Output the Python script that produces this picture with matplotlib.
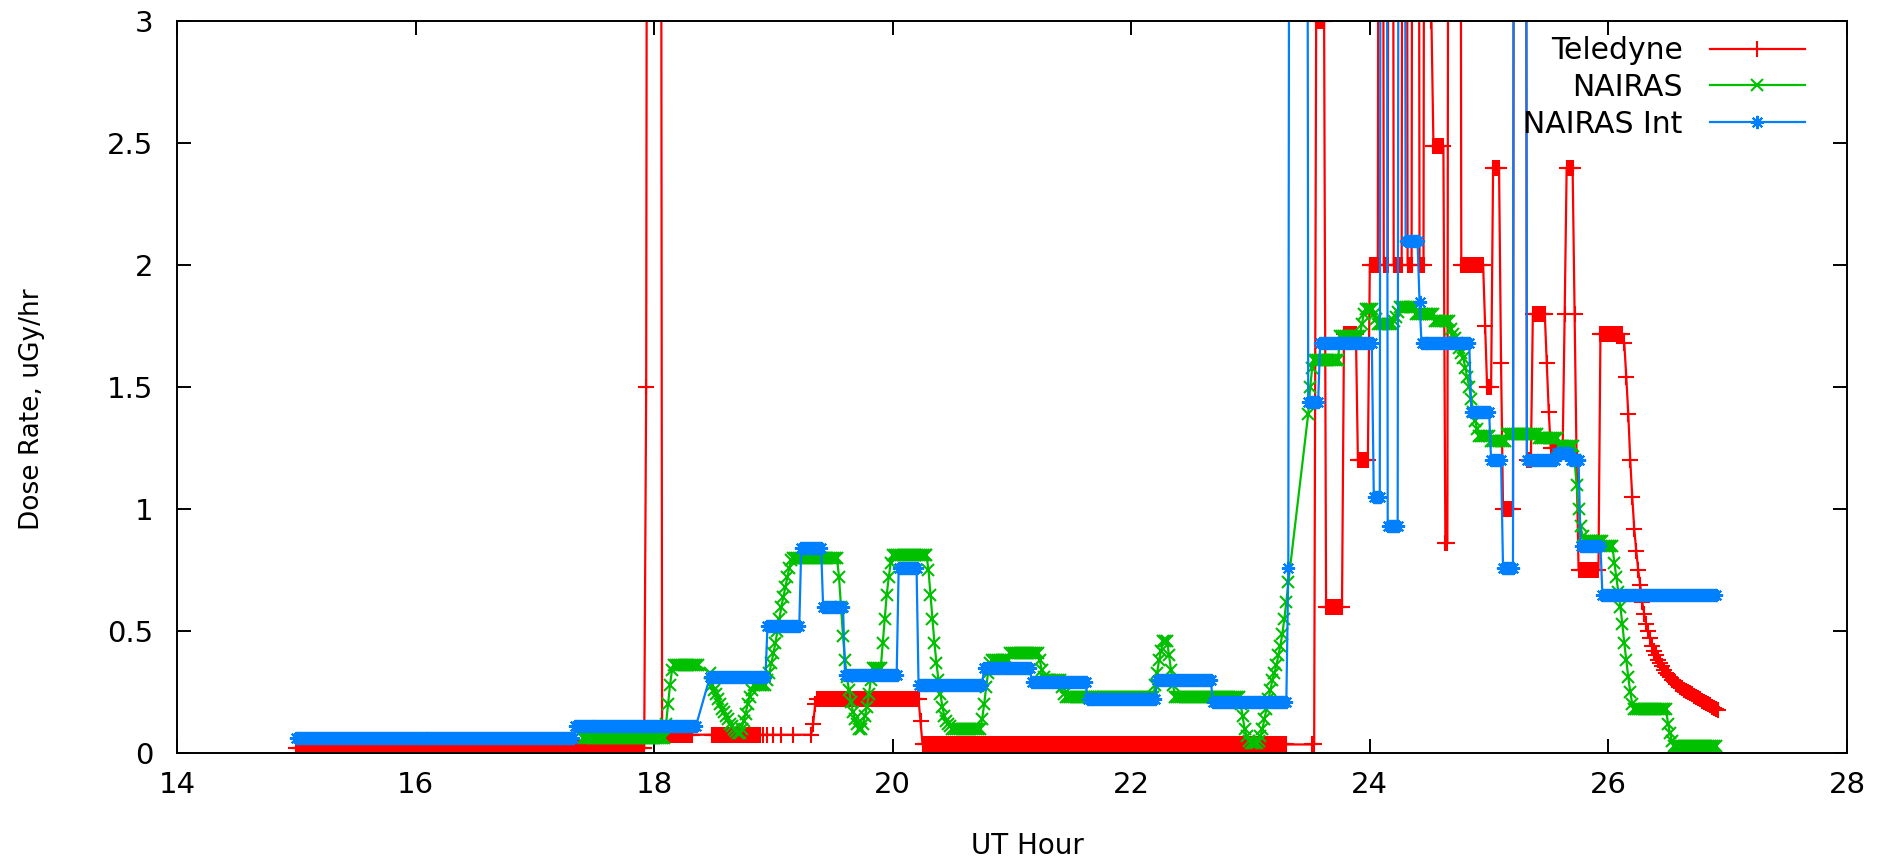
import numpy as np
import matplotlib
matplotlib.use("Agg")
import matplotlib.pyplot as plt
from matplotlib.ticker import FormatStrFormatter, MultipleLocator

# Readings are one per minute, stored as (value, number of minutes) runs.
# None = no reading for that minute (the line just joins across the gap).
# Values > 3 are off the top of the chart.

tel_start = 15.0
teledyne = [
    (0.02, 176), (1.5, 1), (8.0, 7), (0.075, 16), (None, 9), (0.075, 25),
    (None, 1), (0.075, 1), (None, 1), (0.075, 1), (None, 2), (0.075, 1),
    (None, 3), (0.075, 1), (None, 5), (0.075, 1), (None, 8), (0.075, 1),
    (0.12, 1), (0.2, 1), (0.22, 52), (0.13, 1), (0.035, 184), (None, 12),
    (0.035, 2), (3.0, 5), (0.6, 9), (1.72, 7), (1.2, 6),
    (2.0, 5), (8.0, 2), (2.0, 3), (8.0, 2), (2.0, 5), (8.0, 2), (2.0, 3),
    (8.0, 3), (2.0, 3), (8.0, 3), (3.0, 1), (2.49, 6), (0.86, 2), (8.0, 6),
    (2.0, 12), (1.75, 1), (1.5, 3), (2.4, 4), (1.6, 1), (1.0, 6), (8.0, 6),
    (1.2, 3), (1.8, 7), (1.6, 1), (1.4, 1), (1.25, 7), (1.8, 1), (2.4, 4),
    (1.8, 1), (1.2, 1), (0.75, 11), (1.72, 12),
    (1.68, 1), (1.54, 1), (1.39, 1), (1.2, 1), (1.05, 1), (0.92, 1),
    (0.83, 1), (0.75, 1), (0.69, 1), (0.62, 1), (0.57, 1), (0.53, 1),
    (0.50, 1), (0.47, 1), (0.44, 1), (0.42, 1), (0.40, 1), (0.38, 1),
    (0.37, 1), (0.355, 1), (0.34, 1), (0.33, 1), (0.32, 1), (0.31, 1),
    (0.30, 1), (0.295, 1), (0.285, 1), (0.28, 1), (0.27, 1), (0.265, 1),
    (0.26, 1), (0.255, 1), (0.25, 1), (0.245, 1), (0.24, 1), (0.235, 1),
    (0.23, 1), (0.225, 1), (0.22, 1), (0.215, 1), (0.21, 1), (0.205, 1),
    (0.2, 1), (0.195, 1), (0.19, 1), (0.185, 1), (0.18, 1), (0.175, 1),
]

nairas_start = 17.4
nairas = [
    (0.06, 42), (0.12, 1), (0.2, 1), (0.28, 1), (0.34, 1), (0.36, 13),
    (None, 5),
    (0.33, 1), (0.28, 1), (0.26, 1), (0.24, 1), (0.22, 1), (0.2, 1),
    (0.18, 1), (0.17, 1), (0.15, 1), (0.14, 1), (0.12, 1), (0.11, 1),
    (0.1, 1), (0.09, 1), (0.08, 2), (0.1, 1), (0.13, 1), (0.16, 1),
    (0.2, 1), (0.23, 1), (0.26, 1), (0.28, 7),
    (0.3, 1), (0.33, 1), (0.37, 1), (0.41, 1), (0.45, 1), (0.5, 1),
    (0.55, 1), (0.6, 1), (0.64, 1), (0.68, 1), (0.72, 1), (0.76, 1),
    (0.79, 1), (0.8, 23),
    (0.72, 1), (0.6, 1), (0.48, 1), (0.38, 1), (0.31, 1), (0.26, 1),
    (0.21, 1), (0.17, 1), (0.14, 1), (0.12, 1), (0.1, 2), (0.12, 1),
    (0.15, 1), (0.19, 1), (0.24, 1), (0.3, 1), (0.35, 5),
    (0.45, 1), (0.55, 1), (0.65, 1), (0.72, 1), (0.78, 1), (0.81, 18),
    (0.75, 1), (0.65, 1), (0.55, 1), (0.45, 1), (0.37, 1), (0.3, 1),
    (0.24, 1), (0.19, 1), (0.15, 1), (0.13, 1), (0.12, 1), (0.11, 1),
    (0.1, 15), (0.14, 1), (0.2, 1), (0.27, 1), (0.33, 1), (0.37, 1),
    (0.38, 9), (0.41, 15), (0.38, 1), (0.34, 1), (0.31, 1), (0.3, 8),
    (0.27, 1), (0.24, 1), (0.23, 45),
    (0.28, 1), (0.33, 1), (0.38, 1), (0.42, 1), (0.46, 3), (0.4, 1),
    (0.34, 1), (0.28, 1), (0.23, 33),
    (0.2, 1), (0.15, 1), (0.1, 1), (0.07, 1), (0.05, 1), (0.04, 4),
    (0.05, 1), (0.07, 1), (0.1, 1), (0.14, 1), (0.18, 1), (0.22, 1),
    (0.26, 1), (0.3, 1), (0.33, 1), (0.36, 1), (0.4, 1), (0.44, 1),
    (0.49, 1), (0.55, 1), (0.62, 1), (0.7, 1),
    (None, 9),
    (1.39, 1), (1.5, 1), (1.58, 1), (1.61, 13), (1.71, 11), (1.76, 1),
    (1.8, 1), (1.82, 4), (1.8, 1), (1.78, 1), (1.76, 8), (1.77, 1),
    (1.79, 1), (1.81, 1), (1.83, 8), (1.8, 10), (1.77, 8),
    (1.74, 1), (1.72, 1), (1.7, 1), (1.68, 1), (1.66, 1), (1.64, 1),
    (1.62, 1), (1.58, 1), (1.54, 1), (1.5, 1), (1.45, 1), (1.4, 1),
    (1.36, 1), (1.33, 1), (1.3, 6), (1.28, 8), (1.31, 16), (1.29, 10),
    (1.26, 8), (1.2, 1), (1.1, 1), (1.0, 1), (0.93, 1), (0.89, 1),
    (0.87, 10), (0.85, 5),
    (0.78, 1), (0.72, 1), (0.66, 1), (0.6, 1), (0.53, 1), (0.45, 1),
    (0.38, 1), (0.31, 1), (0.25, 1), (0.2, 1), (0.18, 17),
    (0.12, 1), (0.08, 1), (0.05, 1), (0.03, 22),
]

nairas_int_start = 15.0
nairas_int = [
    (0.06, 140), (0.11, 62), (None, 6), (0.31, 29), (0.52, 17), (0.84, 11),
    (0.6, 11), (0.32, 27), (0.76, 10), (0.28, 33), (0.35, 24), (0.29, 28),
    (0.22, 35), (0.30, 28), (0.21, 38), (0.76, 1), (8.0, 9), (1.44, 6),
    (1.68, 27), (1.05, 4), (8.0, 3), (0.93, 6), (8.0, 3), (2.1, 7),
    (1.85, 1), (1.68, 25), (1.4, 10), (1.2, 6), (0.76, 6), (8.0, 6),
    (1.2, 15), (1.23, 7), (1.2, 5), (0.85, 11), (0.65, 58),
]

labels = ["Teledyne", "NAIRAS", "NAIRAS Int"]
colors = ["#ff0000", "#00c000", "#0080ff"]
markers = ["+", "x", (8, 2, 0)]
msizes = [12, 8.5, 9.5]


def expand(start, runs):
    """Turn (value, minutes) runs into time/value arrays, dropping missing minutes."""
    vals = np.concatenate([np.full(n, np.nan if v is None else v) for v, n in runs])
    hours = start + np.arange(len(vals)) / 60.0
    keep = ~np.isnan(vals)
    return hours[keep], vals[keep]


series = [expand(tel_start, teledyne),
          expand(nairas_start, nairas),
          expand(nairas_int_start, nairas_int)]

fig = plt.figure(figsize=(18.77, 8.59), dpi=100)
ax = fig.add_axes([0.0943, 0.1234, 0.8897, 0.8516])

for (t, v), lab, col, mk, ms in zip(series, labels, colors, markers, msizes):
    ax.plot(t, v, color=col, lw=1.6, marker=mk, ms=ms, mew=1.5, label=lab)

ax.set_xlim(14, 28)
ax.set_ylim(0, 3)
ax.xaxis.set_major_locator(MultipleLocator(2))
ax.yaxis.set_major_locator(MultipleLocator(0.5))
ax.yaxis.set_major_formatter(FormatStrFormatter('%g'))

for sp in ax.spines.values():
    sp.set_linewidth(1.4)
ax.tick_params(direction='in', length=10, width=1.4, top=True, right=True,
               labelsize=21)
ax.tick_params(axis='x', pad=13)
ax.tick_params(axis='y', pad=17)

ax.set_xlabel("UT Hour", fontsize=20)
ax.xaxis.set_label_coords(0.509, -0.108)
ax.set_ylabel("Dose Rate, uGy/hr", fontsize=19)
ax.yaxis.set_label_coords(-0.079, 0.47)

ax.legend(loc='upper right', bbox_to_anchor=(0.975, 0.98), markerfirst=False,
          frameon=False, fontsize=21.5, handlelength=3.2, handletextpad=0.9,
          labelspacing=0.26, borderpad=0, borderaxespad=0)

fig.savefig("out.png", dpi=100)
